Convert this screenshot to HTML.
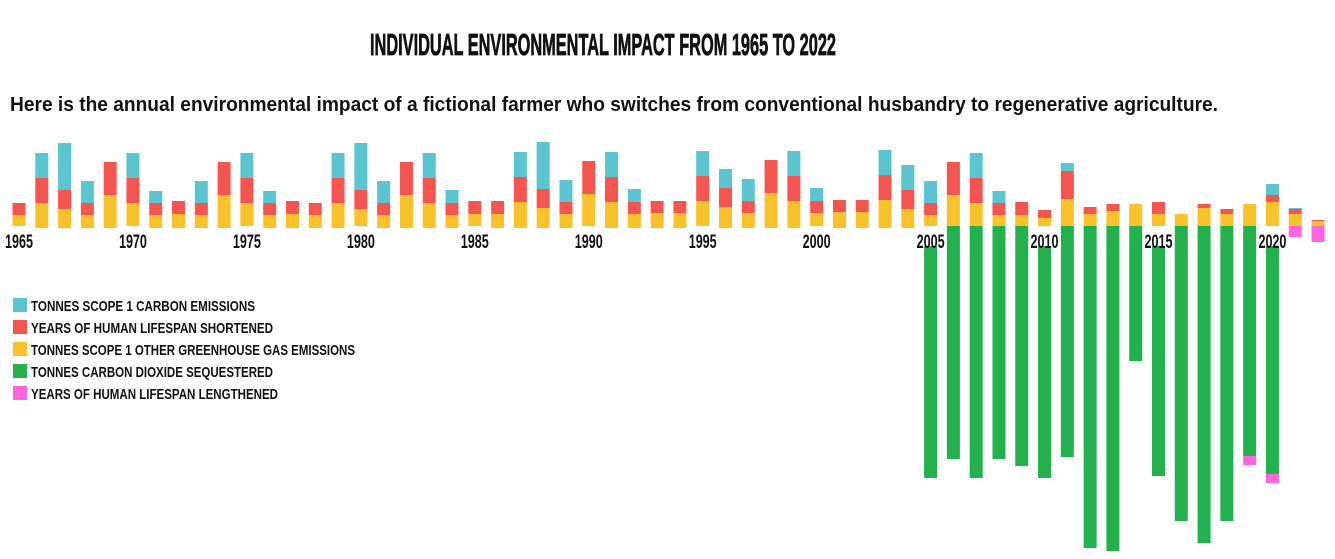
<!DOCTYPE html>
<html><head><meta charset="utf-8"><style>
html,body{margin:0;padding:0;background:#fff;}
svg{display:block;}
</style></head><body>
<svg id="chart" width="1335" height="559" viewBox="0 0 1335 559" xmlns="http://www.w3.org/2000/svg">
<text x="370" y="55" font-family="'Liberation Sans Narrow','Liberation Sans',sans-serif" font-weight="bold" font-size="31" fill="#111" stroke="#111" stroke-width="0.8" textLength="466" lengthAdjust="spacingAndGlyphs">INDIVIDUAL ENVIRONMENTAL IMPACT FROM 1965 TO 2022</text>
<text x="10" y="111" font-family="'Liberation Sans',sans-serif" font-weight="bold" font-size="20" fill="#111" textLength="1208" lengthAdjust="spacingAndGlyphs">Here is the annual environmental impact of a fictional farmer who switches from conventional husbandry to regenerative agriculture.</text>
<g id="bars"></g>
<g id="labels"></g>
<g id="legend"></g>
</svg>
<script>
const years = [];
for (let y = 1965; y <= 2022; y++) years.push(y);
const otherGHG = [13,25,19,13,33,25,13,14,13,33,25,13,14,13,25,19,13,33,25,13,14,14,26,20,14,34,26,14,15,15,27,21,15,35,27,15,16,16,28,19,13,33,25,13,13,10,29,14,17,24,14,14,20,14,24,26,14,7];
const lifeShort = [12,25,19,12,33,25,12,13,12,33,25,12,13,12,25,19,12,33,25,12,13,13,25,19,12,33,25,12,12,12,25,19,12,33,25,12,12,12,25,19,12,33,25,12,13,8,28,7,7,0,12,0,4,5,0,7,5,1];
const carbon = [0,25,47,22,0,25,12,0,22,0,25,12,0,0,25,47,22,0,25,13,0,0,25,47,22,0,25,13,0,0,25,19,22,0,25,13,0,0,25,25,22,0,25,12,0,0,8,0,0,0,0,0,0,0,0,11,1,0];
const sequestered = [0,0,0,0,0,0,0,0,0,0,0,0,0,0,0,0,0,0,0,0,0,0,0,0,0,0,0,0,0,0,0,0,0,0,0,0,0,0,0,0,252,233,252,233,240,252,231,322,325,135,250,295,317,295,230,248,0,0];
const lifeLong = [0,0,0,0,0,0,0,0,0,0,0,0,0,0,0,0,0,0,0,0,0,0,0,0,0,0,0,0,0,0,0,0,0,0,0,0,0,0,0,0,0,0,0,0,0,0,0,0,0,0,0,0,0,0,9,9,11,16];
const legendLabels = ["TONNES SCOPE 1 CARBON EMISSIONS","YEARS OF HUMAN LIFESPAN SHORTENED","TONNES SCOPE 1 OTHER GREENHOUSE GAS EMISSIONS","TONNES CARBON DIOXIDE SEQUESTERED","YEARS OF HUMAN LIFESPAN LENGTHENED"];
const legendColors = ["#5bc4d1","#f5554f","#f9c22a","#22b14c","#ff66dd"];

const NS = "http://www.w3.org/2000/svg";
const x0 = 19, step = 22.79, bw = 13, base = 227, k = 1;
function xC(i){ return x0 + i*step; }
function yS(v){ return v*k; }
const bars = document.getElementById('bars');
function rect(g,x,y,w,h,fill,name){
  if (h<=0) return;
  const r = document.createElementNS(NS,'rect');
  r.setAttribute('x',x); r.setAttribute('y',y); r.setAttribute('width',w); r.setAttribute('height',h); r.setAttribute('fill',fill);
  
  
  g.appendChild(r);
}
years.forEach((yr,i)=>{
  const x = xC(i)-bw/2;
  let top = base+1;
  const h1 = yS(otherGHG[i]); top -= h1; rect(bars,x,top,bw,h1,legendColors[2],'bar-other-ghg-'+yr);
  const h2 = yS(lifeShort[i]); top -= h2; rect(bars,x,top,bw,h2,legendColors[1],'bar-lifespan-shortened-'+yr);
  const h3 = yS(carbon[i]); top -= h3; rect(bars,x,top,bw,h3,legendColors[0],'bar-carbon-'+yr);
  let bot = base-1;
  const h4 = yS(sequestered[i]); rect(bars,x,bot,bw,h4,legendColors[3],'bar-sequestered-'+yr); bot += h4;
  const h5 = yS(lifeLong[i]); rect(bars,x,bot,bw,h5,legendColors[4],'bar-lifespan-lengthened-'+yr);
});
const labels = document.getElementById('labels');
years.forEach((yr,i)=>{
  if (yr%5!==0) return;
  const lx = xC(i)-14;
  const bg = document.createElementNS(NS,'rect');
  bg.setAttribute('x',lx-1); bg.setAttribute('y',base-1); bg.setAttribute('width',31); bg.setAttribute('height',20); bg.setAttribute('fill','#fff');
  
  
  labels.appendChild(bg);
  const t = document.createElementNS(NS,'text');
  t.setAttribute('x',lx); t.setAttribute('y',248);
  t.setAttribute('font-family',"'Liberation Sans Narrow','Liberation Sans',sans-serif");
  t.setAttribute('font-weight','bold'); t.setAttribute('font-size','19'); t.setAttribute('fill','#111');
  t.setAttribute('textLength','28'); t.setAttribute('lengthAdjust','spacingAndGlyphs');
  t.textContent = yr;
  
  
  labels.appendChild(t);
});
const legend = document.getElementById('legend');
const legendWidths = [224,242,324,242,247];
legendLabels.forEach((lab,i)=>{
  const cy = 305 + i*22;
  const g = document.createElementNS(NS,'g');
  
  
  const s = document.createElementNS(NS,'rect');
  s.setAttribute('x',13); s.setAttribute('y',cy-7); s.setAttribute('width',14); s.setAttribute('height',14); s.setAttribute('fill',legendColors[i]);
  
  
  g.appendChild(s);
  const t = document.createElementNS(NS,'text');
  t.setAttribute('x',31); t.setAttribute('y',cy+6);
  t.setAttribute('font-family',"'Liberation Sans Narrow','Liberation Sans',sans-serif");
  t.setAttribute('font-weight','bold'); t.setAttribute('font-size','15'); t.setAttribute('fill','#111');
  t.setAttribute('textLength',legendWidths[i]); t.setAttribute('lengthAdjust','spacingAndGlyphs');
  t.textContent = lab;
  
  
  g.appendChild(t);
  legend.appendChild(g);
});
</script>
</body></html>
